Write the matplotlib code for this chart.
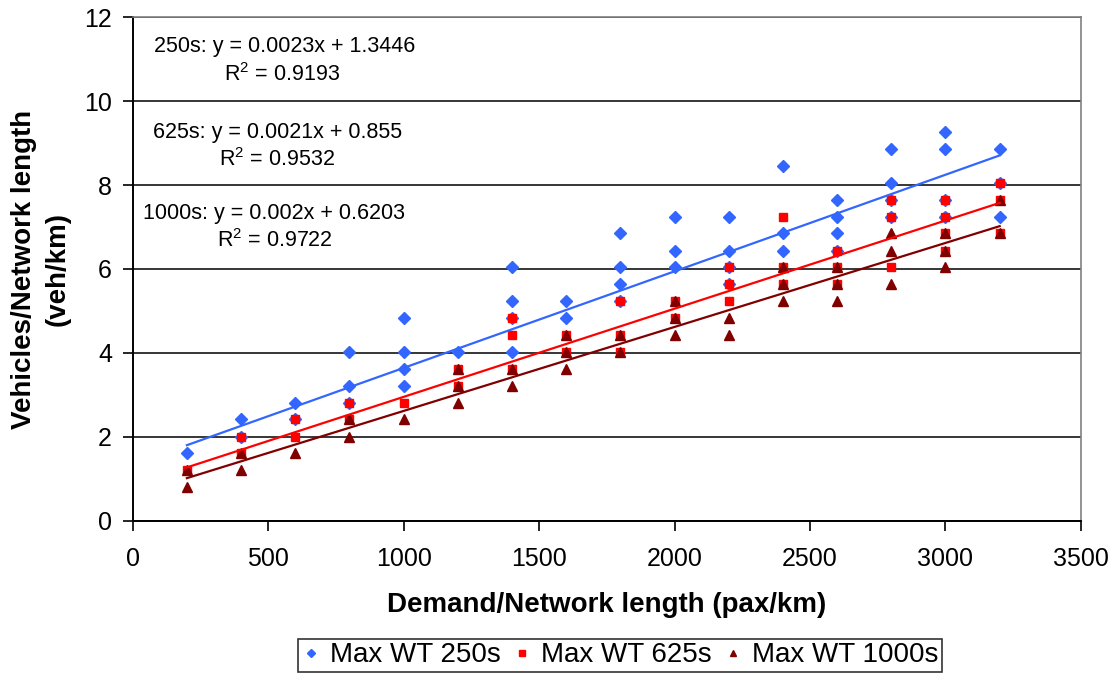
import matplotlib
matplotlib.use('Agg')
import matplotlib.pyplot as plt
import numpy as np

# Arial-compatible font
plt.rcParams['font.family'] = ['Liberation Sans', 'DejaVu Sans']
plt.rcParams['mathtext.fontset'] = 'custom'
plt.rcParams['mathtext.rm'] = 'Liberation Sans'

# demand levels (pax/km)
demand = [200, 400, 600, 800, 1000, 1200, 1400, 1600,
          1800, 2000, 2200, 2400, 2600, 2800, 3000, 3200]

# vehicles/network length read per demand level
wt250 = [[1.61], [2.42, 2.01], [2.82, 2.42], [4.03, 3.22, 2.82],
         [4.83, 4.03, 3.62, 3.22], [4.03], [6.04, 5.23, 4.83, 4.03],
         [5.23, 4.83], [6.85, 6.04, 5.64, 5.23], [7.25, 6.44, 6.04],
         [7.25, 6.44, 6.04, 5.64], [8.45, 6.85, 6.44],
         [7.65, 7.25, 6.85, 6.44], [8.86, 8.05, 7.65, 7.25],
         [9.26, 8.86, 7.65, 7.25], [8.86, 8.05, 7.25]]
wt625 = [[1.21], [2.01, 1.61], [2.42, 2.01], [2.82, 2.42], [2.82],
         [3.62, 3.22], [4.83, 4.43, 3.62], [4.43, 4.03],
         [5.23, 4.43, 4.03], [5.23, 4.83], [6.04, 5.64, 5.23],
         [7.25, 6.04, 5.64], [6.44, 6.04, 5.64], [7.65, 7.25, 6.04],
         [7.65, 7.25, 6.85, 6.44], [8.05, 7.65, 6.85]]
wt1000 = [[1.21, 0.80], [1.61, 1.21], [1.61], [2.42, 2.01], [2.42],
          [3.62, 3.22, 2.82], [3.62, 3.22], [4.43, 4.03, 3.62],
          [4.43, 4.03], [5.23, 4.83, 4.43], [4.83, 4.43],
          [6.04, 5.64, 5.23], [6.04, 5.64, 5.23], [6.85, 6.44, 5.64],
          [6.85, 6.44, 6.04], [7.65, 6.85]]

# trendline coefficients (slope, intercept) and R^2 from the chart
slopes = [0.0023, 0.0021, 0.002]
intercepts = [1.3446, 0.855, 0.6203]
r2 = [0.9193, 0.9532, 0.9722]
names = ['250s', '625s', '1000s']


def flatten(groups):
    """把每个需求水平下的点展开成 x, y"""
    xs, ys = [], []
    for d, vals in zip(demand, groups):
        for v in vals:
            xs.append(d)
            ys.append(v)
    return xs, ys


fig = plt.figure(figsize=(11.19, 6.73), dpi=100)
ax = fig.add_axes([0.1186, 0.2259, 0.966 - 0.1186, 0.9747 - 0.2259])

colors = ['#3366FF', '#FF0000', '#800000']
markers = ['D', 's', '^']
sizes = [6.5, 6.0, 7.0]
labels = ['Max WT 250s', 'Max WT 625s', 'Max WT 1000s']

for groups, c, m, ms, lab in zip([wt250, wt625, wt1000], colors, markers, sizes, labels):
    xs, ys = flatten(groups)
    ax.plot(xs, ys, ls='none', marker=m, ms=ms, color=c, mec=c, label=lab, zorder=3)

# linear trendlines over the data range
x_fit = np.array([min(demand), max(demand)])
for k, b, c in zip(slopes, intercepts, colors):
    ax.plot(x_fit, k * x_fit + b, color=c, lw=1.6, zorder=4)

# equation labels
eq_pos = [(560, 11.29, 551, 10.62), (534, 9.26, 534, 8.60), (521, 7.33, 523, 6.67)]
for (x1, y1, x2, y2), nm, k, b, r in zip(eq_pos, names, slopes, intercepts, r2):
    ax.text(x1, y1, f'{nm}: y = {k:g}x + {b:g}', ha='center', va='center', fontsize=15.5)
    ax.text(x2, y2, f'R$^2$ = {r:g}', ha='center', va='center', fontsize=15.5)

ax.set_xlim(0, 3500)
ax.set_ylim(0, 12)
ax.set_xticks(np.arange(0, 3501, 500))
ax.set_yticks(np.arange(0, 13, 2))
ax.tick_params(axis='both', labelsize=18, length=7, width=1.2, direction='out', color='black')
ax.tick_params(axis='x', pad=12)
ax.tick_params(axis='y', pad=8)

ax.yaxis.grid(True, color='black', lw=1.1)
ax.set_axisbelow(True)
for side in ['left', 'bottom']:
    ax.spines[side].set_color('black')
    ax.spines[side].set_linewidth(1.4)
for side in ['top', 'right']:
    ax.spines[side].set_color('#808080')
    ax.spines[side].set_linewidth(1.2)

ax.set_xlabel('Demand/Network length (pax/km)', fontsize=20, fontweight='bold', labelpad=15)
fig.text(0.0366, 0.600, 'Vehicles/Network length\n(veh/km)', rotation=90, ha='center',
         va='center', fontsize=20, fontweight='bold', linespacing=1.35, multialignment='center')

leg = fig.legend(loc='lower center', bbox_to_anchor=(0.554, 0.002), ncol=3, fontsize=20,
                 frameon=True, fancybox=False, edgecolor='black', markerscale=0.7,
                 handlelength=0.7, handletextpad=0.35, columnspacing=0.4, borderpad=0.12,
                 borderaxespad=0.0)
leg.get_frame().set_linewidth(1.2)

fig.savefig('out.png', dpi=100)
